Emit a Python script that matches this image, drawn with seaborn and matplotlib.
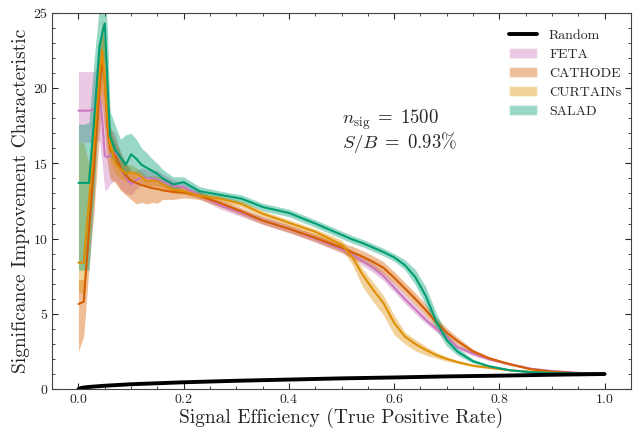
import matplotlib
matplotlib.use("Agg")
import matplotlib.pyplot as plt
from matplotlib.patches import Patch
from matplotlib.lines import Line2D
from matplotlib.ticker import MultipleLocator
import pandas as pd
import seaborn as sns

# shared signal-efficiency grid
tpr = [0.0, 0.01, 0.02, 0.03, 0.04, 0.045, 0.05, 0.055, 0.06, 0.07,
       0.08, 0.09, 0.10, 0.11, 0.12, 0.13, 0.14, 0.15, 0.16, 0.18,
       0.20, 0.23, 0.27, 0.31, 0.35, 0.40, 0.45, 0.50, 0.52, 0.54,
       0.56, 0.58, 0.60, 0.62, 0.64, 0.66, 0.68, 0.70, 0.72, 0.75,
       0.78, 0.82, 0.86, 0.90, 0.95, 1.0]

feta = [18.5, 18.5, 18.5, 18.6, 19.4, 18.0, 15.5, 15.4, 15.5, 15.7,
        14.6, 14.1, 13.6, 13.9, 14.1, 14.0, 14.0, 13.9, 13.8, 13.5,
        13.4, 12.9, 12.2, 11.7, 11.2, 10.65, 10.0, 9.3, 8.95, 8.5,
        8.05, 7.5, 6.75, 6.0, 5.3, 4.6, 4.0, 3.45, 2.8, 2.35,
        2.0, 1.65, 1.35, 1.2, 1.08, 1.0]
feta_lo = [16.4, 16.4, 16.4, 16.5, 16.5, 15.0, 13.2, 13.3, 13.6, 13.9,
           13.3, 13.0, 12.9, 13.3, 13.6, 13.5, 13.5, 13.5, 13.4, 13.1,
           13.1, 12.65, 11.95, 11.45, 10.95, 10.4, 9.75, 9.05, 8.7, 8.2,
           7.75, 7.2, 6.45, 5.7, 5.0, 4.35, 3.8, 3.25, 2.65, 2.2,
           1.9, 1.57, 1.3, 1.16, 1.06, 1.0]
feta_hi = [21.1, 21.1, 21.1, 21.1, 21.5, 21.0, 18.5, 17.3, 17.3, 17.0,
           15.6, 15.0, 14.5, 14.5, 14.7, 14.6, 14.6, 14.5, 14.3, 13.9,
           13.7, 13.15, 12.45, 11.95, 11.45, 10.9, 10.25, 9.55, 9.2, 8.8,
           8.35, 7.8, 7.05, 6.3, 5.6, 4.85, 4.2, 3.65, 2.95, 2.5,
           2.1, 1.73, 1.4, 1.24, 1.1, 1.0]

cathode = [5.65, 5.8, 10.5, 15.0, 20.0, 21.9, 20.5, 17.5, 15.9, 15.5,
           14.7, 14.2, 13.85, 13.7, 13.55, 13.45, 13.35, 13.3, 13.2, 13.1,
           13.05, 12.85, 12.35, 11.8, 11.2, 10.65, 10.05, 9.4, 9.1, 8.8,
           8.45, 8.05, 7.4, 6.7, 6.0, 5.25, 4.45, 3.75, 3.2, 2.5,
           2.05, 1.65, 1.32, 1.15, 1.05, 1.0]
cathode_lo = [2.5, 3.5, 8.0, 12.0, 17.0, 19.0, 17.0, 15.0, 14.0, 13.7,
              13.2, 12.9, 12.6, 12.3, 12.4, 12.3, 12.4, 12.35, 12.6, 12.6,
              12.7, 12.6, 12.1, 11.55, 10.95, 10.4, 9.8, 9.1, 8.7, 8.4,
              8.05, 7.65, 7.0, 6.3, 5.6, 4.85, 4.15, 3.45, 2.95, 2.35,
              1.93, 1.58, 1.27, 1.12, 1.03, 1.0]
cathode_hi = [7.25, 7.3, 13.0, 18.0, 23.0, 24.0, 23.0, 20.0, 17.5, 16.5,
              15.8, 15.0, 14.5, 14.2, 14.0, 13.9, 13.8, 13.7, 13.6, 13.5,
              13.4, 13.1, 12.6, 12.05, 11.45, 10.9, 10.3, 9.7, 9.5, 9.2,
              8.85, 8.45, 7.8, 7.1, 6.4, 5.65, 4.75, 4.05, 3.45, 2.65,
              2.17, 1.72, 1.37, 1.18, 1.07, 1.0]

curtains = [8.4, 8.4, 12.5, 16.5, 21.0, 22.5, 20.5, 18.0, 16.3, 15.0,
            14.6, 14.35, 14.4, 14.3, 14.1, 13.8, 13.85, 13.8, 13.6, 13.25,
            13.15, 12.85, 12.65, 12.3, 11.65, 11.05, 10.45, 9.6, 8.8, 7.6,
            6.6, 5.7, 4.4, 3.5, 3.0, 2.6, 2.25, 2.0, 1.8, 1.55,
            1.42, 1.25, 1.15, 1.08, 1.03, 1.0]
curtains_lo = [6.4, 6.4, 10.0, 14.0, 19.0, 20.0, 18.5, 16.5, 15.2, 14.3,
               14.0, 13.8, 13.9, 13.9, 13.75, 13.45, 13.5, 13.45, 13.25, 13.0,
               12.95, 12.65, 12.45, 12.1, 11.45, 10.85, 10.2, 9.3, 8.3, 6.8,
               5.8, 4.9, 3.6, 3.0, 2.55, 2.25, 2.05, 1.85, 1.7, 1.48,
               1.37, 1.22, 1.13, 1.07, 1.02, 1.0]
curtains_hi = [16.4, 16.4, 15.0, 19.0, 23.0, 24.5, 22.5, 19.5, 17.3, 15.8,
               15.2, 14.9, 14.9, 14.7, 14.45, 14.15, 14.2, 14.15, 13.95, 13.5,
               13.35, 13.05, 12.85, 12.5, 11.85, 11.25, 10.65, 9.9, 9.1, 8.0,
               7.1, 6.2, 4.9, 3.8, 3.3, 2.85, 2.45, 2.15, 1.9, 1.62,
               1.47, 1.28, 1.17, 1.09, 1.04, 1.0]

salad = [13.7, 13.7, 13.7, 18.0, 22.8, 23.6, 24.3, 20.5, 16.8, 15.9,
         15.4, 14.9, 15.6, 15.3, 14.9, 14.7, 14.5, 14.3, 14.0, 13.6,
         13.75, 13.15, 12.9, 12.65, 12.1, 11.7, 11.0, 10.25, 9.95, 9.7,
         9.4, 9.1, 8.75, 8.25, 7.45, 6.2, 4.5, 3.25, 2.5, 1.85,
         1.52, 1.25, 1.12, 1.07, 1.04, 1.0]
salad_lo = [7.9, 7.9, 7.9, 13.0, 20.0, 21.0, 22.0, 18.0, 15.5, 15.0,
            14.6, 14.2, 14.5, 14.4, 14.2, 14.0, 13.9, 13.8, 13.6, 13.3,
            13.4, 12.85, 12.65, 12.4, 11.85, 11.45, 10.75, 10.0, 9.7, 9.45,
            9.15, 8.85, 8.5, 7.95, 6.95, 5.6, 3.95, 2.85, 2.25, 1.72,
            1.45, 1.2, 1.09, 1.05, 1.03, 1.0]
salad_hi = [17.6, 17.6, 17.7, 22.0, 25.5, 26.0, 26.5, 24.0, 18.5, 17.5,
            16.6, 16.9, 17.0, 16.6, 16.0, 15.7, 15.3, 15.0, 14.6, 14.1,
            14.1, 13.45, 13.15, 12.9, 12.35, 11.95, 11.25, 10.5, 10.2, 9.95,
            9.65, 9.35, 9.0, 8.6, 7.95, 6.8, 5.05, 3.65, 2.75, 1.98,
            1.59, 1.3, 1.15, 1.09, 1.05, 1.0]

random_x = [0.0, 0.005, 0.01, 0.02, 0.05, 0.1, 0.2, 0.3, 0.4, 0.5, 0.6, 0.7, 0.8, 0.9, 1.0]
random_y = [0.0, 0.07, 0.1, 0.14, 0.22, 0.32, 0.45, 0.55, 0.63, 0.71, 0.77, 0.84, 0.89, 0.95, 1.0]

methods = ["FETA", "CATHODE", "CURTAINs", "SALAD"]
colors = {"FETA": "#CC78BC", "CATHODE": "#D55E00", "CURTAINs": "#DE8F05", "SALAD": "#029E73"}
curves = {
    "FETA": (feta, feta_lo, feta_hi),
    "CATHODE": (cathode, cathode_lo, cathode_hi),
    "CURTAINs": (curtains, curtains_lo, curtains_hi),
    "SALAD": (salad, salad_lo, salad_hi),
}

sns.set_style("ticks")
plt.rcParams["font.family"] = ["cmr10", "DejaVu Serif"]
plt.rcParams["mathtext.fontset"] = "cm"
plt.rcParams["axes.formatter.use_mathtext"] = True
plt.rcParams["axes.unicode_minus"] = False

fig = plt.figure(figsize=(6.36, 4.28), dpi=100)
ax = fig.add_axes([0.082, 0.091, 0.910, 0.879])

for name in methods:
    mid, lo, hi = curves[name]
    df = pd.DataFrame({"tpr": tpr, "sic": mid})
    ax.fill_between(tpr, lo, hi, color=colors[name], alpha=0.4, lw=0)
    sns.lineplot(data=df, x="tpr", y="sic", color=colors[name], lw=1.5, ax=ax)

sns.lineplot(x=random_x, y=random_y, color="black", lw=2.8, ax=ax)

ax.set_xlim(-0.05, 1.05)
ax.set_ylim(0, 25)
ax.xaxis.set_major_locator(MultipleLocator(0.2))
ax.xaxis.set_minor_locator(MultipleLocator(0.05))
ax.yaxis.set_major_locator(MultipleLocator(5))
ax.yaxis.set_minor_locator(MultipleLocator(1))
ax.tick_params(which="both", direction="in", top=True, right=True, labelsize=10, pad=3)
ax.tick_params(which="major", length=4)
ax.tick_params(which="minor", length=2)
for sp in ax.spines.values():
    sp.set_color("#444444")

ax.set_xlabel("Signal Efficiency (True Positive Rate)", fontsize=14, labelpad=1)
ax.set_ylabel("Significance Improvement Characteristic", fontsize=14, labelpad=2)

ax.text(0.5, 17.6, r"$n_{\rm sig}\;=\;1500$", fontsize=13.5)
ax.text(0.5, 16.0, r"$S/B\;=\;0.93\%$", fontsize=13.5)

handles = [Line2D([0], [0], color="black", lw=2.8, label="Random")]
handles += [Patch(facecolor=colors[n], alpha=0.4, label=n) for n in methods]
ax.legend(handles=handles, loc="upper right", frameon=False, fontsize=10,
          handlelength=2.0, handletextpad=0.85, labelspacing=0.45,
          bbox_to_anchor=(1.005, 0.99))

fig.savefig("out.png", dpi=100)
